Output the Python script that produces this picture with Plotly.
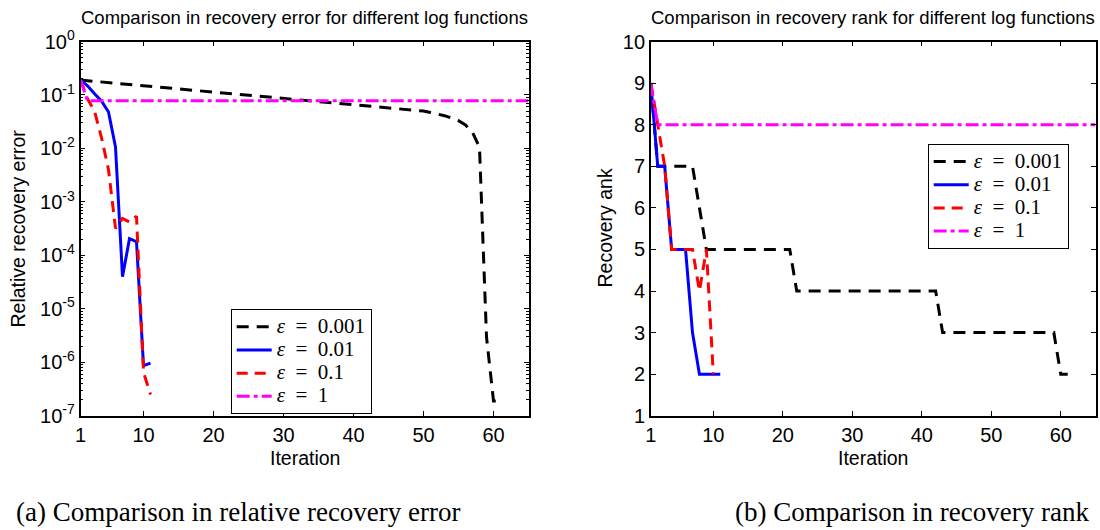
import plotly.graph_objects as go

# ---------------------------------------------------------------------------
# Data: relative recovery error and recovered rank per iteration,
# for the four values of epsilon in the log surrogate.
# ---------------------------------------------------------------------------
series_names = ["ε = 0.001", "ε = 0.01", "ε = 0.1", "ε = 1"]

iter_eps0001 = list(range(1, 62))
iter_eps001 = list(range(1, 12))
iter_eps01_err = list(range(1, 12))
iter_eps01_rank = list(range(1, 11))
iter_eps1 = list(range(1, 66))

err_eps0001 = [
    0.19, 0.185, 0.18, 0.176, 0.171, 0.166, 0.162, 0.157, 0.153, 0.149,
    0.145, 0.141, 0.137, 0.134, 0.130, 0.127, 0.123, 0.120, 0.117, 0.114,
    0.111, 0.108, 0.105, 0.102, 0.099, 0.097, 0.094, 0.091, 0.089, 0.087,
    0.084, 0.082, 0.080, 0.078, 0.076, 0.074, 0.072, 0.070, 0.068, 0.066,
    0.064, 0.0625, 0.061, 0.059, 0.058, 0.056, 0.055, 0.053, 0.052, 0.050,
    0.047, 0.044, 0.041, 0.037, 0.033, 0.0275, 0.020, 0.0105, 3.0e-6, 1.9e-7,
    1.9e-7,
]
err_eps001 = [0.19, 0.149, 0.105, 0.077, 0.048, 0.0107, 4.0e-5, 2.05e-4,
              1.8e-4, 8.7e-7, 9.7e-7]
err_eps01 = [0.19, 0.085, 0.05, 0.016, 0.004, 3.2e-4, 4.9e-4, 4.2e-4,
             5.4e-4, 6.5e-7, 2.5e-7]
err_eps1 = [
    0.19, 0.078, 0.078, 0.078, 0.078, 0.078, 0.078, 0.078, 0.078, 0.078,
    0.078, 0.078, 0.078, 0.078, 0.078, 0.078, 0.078, 0.078, 0.078, 0.078,
    0.078, 0.078, 0.078, 0.078, 0.078, 0.078, 0.078, 0.078, 0.078, 0.078,
    0.078, 0.078, 0.078, 0.078, 0.078, 0.078, 0.078, 0.078, 0.078, 0.078,
    0.078, 0.078, 0.078, 0.078, 0.078, 0.078, 0.078, 0.078, 0.078, 0.078,
    0.078, 0.078, 0.078, 0.078, 0.078, 0.078, 0.078, 0.078, 0.078, 0.078,
    0.078, 0.078, 0.078, 0.078, 0.078,
]

rank_eps0001 = [
    9, 7, 7, 7, 7, 7, 7, 6, 5, 5,
    5, 5, 5, 5, 5, 5, 5, 5, 5, 5,
    5, 4, 4, 4, 4, 4, 4, 4, 4, 4,
    4, 4, 4, 4, 4, 4, 4, 4, 4, 4,
    4, 4, 3, 3, 3, 3, 3, 3, 3, 3,
    3, 3, 3, 3, 3, 3, 3, 3, 3, 2,
    2,
]
rank_eps001 = [9, 7, 7, 5, 5, 5, 3, 2, 2, 2, 2]
rank_eps01 = [9, 8, 7, 5, 5, 5, 5, 4, 5, 2]
rank_eps1 = [
    9, 8, 8, 8, 8, 8, 8, 8, 8, 8,
    8, 8, 8, 8, 8, 8, 8, 8, 8, 8,
    8, 8, 8, 8, 8, 8, 8, 8, 8, 8,
    8, 8, 8, 8, 8, 8, 8, 8, 8, 8,
    8, 8, 8, 8, 8, 8, 8, 8, 8, 8,
    8, 8, 8, 8, 8, 8, 8, 8, 8, 8,
    8, 8, 8, 8, 8,
]

x_ticks = [1, 10, 20, 30, 40, 50, 60]
err_tick_exponents = [0, -1, -2, -3, -4, -5, -6, -7]
rank_ticks = [1, 2, 3, 4, 5, 6, 7, 8, 9, 10]

# ---------------------------------------------------------------------------
# Styling
# ---------------------------------------------------------------------------
W, H = 1100, 530
SANS = "Liberation Sans, Arial, sans-serif"
SERIF = "Liberation Serif, Times New Roman, serif"
TICK_SIZE = 20

line_styles = [
    dict(color="#000000", width=3, dash="12px,8px"),
    dict(color="#0000ff", width=3, dash="solid"),
    dict(color="#ff0000", width=3, dash="11px,7px"),
    dict(color="#ff00ff", width=3, dash="13px,4px,4px,4px"),
]


def px_x(p):
    return p / W


def px_y(p):
    return 1 - p / H


left_dom_x = [px_x(80.5), px_x(528.5)]
right_dom_x = [px_x(650.8), px_x(1095.5)]
dom_y = [px_y(415.8), px_y(41.5)]

fig = go.Figure()

err_x = [iter_eps0001, iter_eps001, iter_eps01_err, iter_eps1]
err_y = [err_eps0001, err_eps001, err_eps01, err_eps1]
rank_x = [iter_eps0001, iter_eps001, iter_eps01_rank, iter_eps1]
rank_y = [rank_eps0001, rank_eps001, rank_eps01, rank_eps1]


def legend_label(name):
    # italic epsilon, en spaces around the equals sign
    eps, rest = name.split(" = ")
    return ("<span style='font-size:21px'><i>" + eps + "</i>"
            + "\u2002=\u2002" + rest + "</span>")


for name, xs, ys, st in zip(series_names, err_x, err_y, line_styles):
    fig.add_trace(go.Scatter(
        x=xs, y=ys, mode="lines", line=st, name=legend_label(name),
        xaxis="x", yaxis="y", legend="legend",
    ))

for name, xs, ys, st in zip(series_names, rank_x, rank_y, line_styles):
    fig.add_trace(go.Scatter(
        x=xs, y=ys, mode="lines", line=st, name=legend_label(name),
        xaxis="x2", yaxis="y2", legend="legend2",
    ))

axis_common = dict(
    showline=True, linecolor="black", linewidth=1.5, mirror="ticks",
    ticks="inside", ticklen=5, tickwidth=1, tickcolor="black",
    showgrid=False, zeroline=False, automargin=False,
    tickfont=dict(family=SANS, size=TICK_SIZE, color="black"),
)

minor_vals = []
for e in range(-7, 0):
    for m in range(2, 10):
        minor_vals.append(m * 10.0 ** e)

power_labels = ["<span style='font-size:%dpx'>10<sup>%d</sup></span>"
                % (TICK_SIZE, e) for e in err_tick_exponents]

legend_common = dict(
    xanchor="left", yanchor="top",
    bgcolor="white", bordercolor="black", borderwidth=1,
    font=dict(family=SERIF, size=15.5, color="black"),
    tracegroupgap=0, itemwidth=35,
)

fig.update_layout(
    width=W, height=H,
    margin=dict(l=0, r=0, t=0, b=0, autoexpand=False),
    paper_bgcolor="white", plot_bgcolor="white",
    showlegend=True,
    xaxis=dict(domain=left_dom_x, range=[1, 65], tickmode="array",
               tickvals=x_ticks, anchor="y", **axis_common),
    yaxis=dict(domain=dom_y, type="log", range=[-7, 0], tickmode="array",
               tickvals=[10.0 ** e for e in err_tick_exponents],
               ticktext=power_labels, anchor="x",
               minor=dict(ticks="inside", ticklen=3, tickcolor="black",
                          tickmode="array", tickvals=minor_vals,
                          showgrid=False),
               **axis_common),
    xaxis2=dict(domain=right_dom_x, range=[1, 65], tickmode="array",
                tickvals=x_ticks, anchor="y2", **axis_common),
    yaxis2=dict(domain=dom_y, range=[1, 10], tickmode="array",
                tickvals=rank_ticks, anchor="x2", **axis_common),
    legend=dict(x=px_x(230.7), y=px_y(309.3), **legend_common),
    legend2=dict(x=px_x(927.7), y=px_y(144), **legend_common),
)

annotations = [
    # plot titles
    dict(text="Comparison in recovery error for different log functions",
         x=px_x(304.5), y=px_y(18), font=dict(family=SANS, size=18.5)),
    dict(text="Comparison in recovery rank for different log functions",
         x=px_x(873), y=px_y(18), font=dict(family=SANS, size=18.5)),
    # axis titles
    dict(text="Iteration", x=px_x(304.5), y=px_y(458),
         font=dict(family=SANS, size=19.5)),
    dict(text="Iteration", x=px_x(873), y=px_y(458),
         font=dict(family=SANS, size=19.5)),
    dict(text="Relative recovery error", x=px_x(18), y=px_y(228.5),
         textangle=-90, font=dict(family=SANS, size=19.5)),
    dict(text="Recovery ank", x=px_x(605), y=px_y(228.5),
         textangle=-90, font=dict(family=SANS, size=19.5)),
    # sub-figure captions
    dict(text="(a) Comparison in relative recovery error",
         x=px_x(238), y=px_y(512), font=dict(family=SERIF, size=27)),
    dict(text="(b) Comparison in recovery rank",
         x=px_x(912), y=px_y(512), font=dict(family=SERIF, size=27)),
]
for a in annotations:
    a.update(xref="paper", yref="paper", showarrow=False,
             xanchor="center", yanchor="middle")
    a["font"].setdefault("color", "black")
fig.update_layout(annotations=annotations)

fig.write_html("out.html")
